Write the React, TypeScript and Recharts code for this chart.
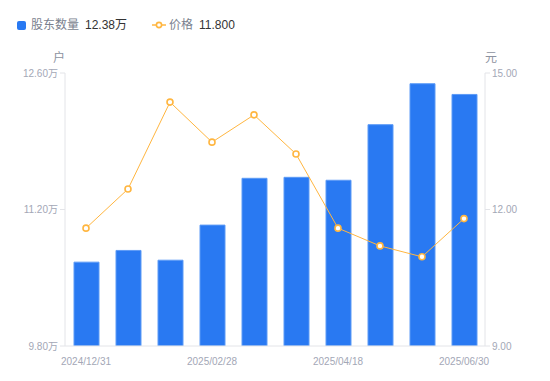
import React from 'react';
import { ComposedChart, Bar, Line, XAxis, YAxis } from 'recharts';

const dates = [
  '2024/12/31',
  '2025/01/10',
  '2025/01/20',
  '2025/02/28',
  '2025/03/10',
  '2025/03/31',
  '2025/04/18',
  '2025/05/09',
  '2025/05/30',
  '2025/06/30',
];
const holders = [10.66, 10.78, 10.68, 11.04, 11.52, 11.53, 11.5, 12.07, 12.49, 12.38];
const prices = [11.59, 12.45, 14.36, 13.48, 14.08, 13.22, 11.59, 11.2, 10.96, 11.8];
const leftTicks = [9.8, 11.2, 12.6];
const rightTicks = [9, 12, 15];

const data = dates.map((d, i) => ({ date: d, holders: holders[i], price: prices[i] }));

const FONT = "'Liberation Sans', 'Noto Sans CJK SC', sans-serif";
const tickStyle = { fontSize: 10, fill: '#a3a7b6', fontFamily: FONT };
const axisGray = '#e3e4e8';

export default function App() {
  return (
    <div style={{ position: 'absolute', left: 0, top: 0, width: 550, height: 381, background: '#fff', fontFamily: FONT }}>
      {/* legend */}
      <div style={{ position: 'absolute', top: 16, left: 17, display: 'flex', alignItems: 'center', fontSize: 12, lineHeight: '18px' }}>
        <span style={{ width: 9, height: 9, borderRadius: 2, background: '#2979f2', display: 'inline-block' }} />
        <span style={{ color: '#7a7f8e', marginLeft: 5 }}>股东数量</span>
        <span style={{ color: '#333', marginLeft: 6 }}>12.38万</span>
        <svg width={14} height={10} style={{ marginLeft: 25 }}>
          <line x1={0} y1={5} x2={14} y2={5} stroke="#ffb640" strokeWidth={1.5} />
          <circle cx={7} cy={5} r={2.6} fill="#fff" stroke="#ffb640" strokeWidth={1.6} />
        </svg>
        <span style={{ color: '#7a7f8e', marginLeft: 3 }}>价格</span>
        <span style={{ color: '#333', marginLeft: 6 }}>11.800</span>
      </div>
      <div style={{ position: 'absolute', left: 53, top: 48, fontSize: 12, color: '#8d92a0' }}>户</div>
      <div style={{ position: 'absolute', left: 485, top: 48, fontSize: 12, color: '#8d92a0' }}>元</div>

      <ComposedChart width={550} height={381} data={data} margin={{ top: 73, right: 0, bottom: 0, left: 0 }}>
        <XAxis
          dataKey="date"
          interval={2}
          height={35}
          tickLine={false}
          tickMargin={6}
          tick={tickStyle}
          stroke={axisGray}
        />
        <YAxis
          yAxisId="left"
          width={65}
          domain={[9.8, 12.6]}
          ticks={leftTicks}
          tickFormatter={(v: number) => v.toFixed(2) + '万'}
          tick={tickStyle}
          tickSize={5}
          stroke={axisGray}
          allowDataOverflow
        />
        <YAxis
          yAxisId="right"
          orientation="right"
          width={65}
          domain={[9, 15]}
          ticks={rightTicks}
          tickFormatter={(v: number) => v.toFixed(2)}
          tick={tickStyle}
          tickSize={5}
          stroke={axisGray}
          allowDataOverflow
        />
        <Bar
          yAxisId="left"
          dataKey="holders"
          fill="#2979f2"
          stroke="#5d9bf6"
          strokeWidth={1}
          barSize={25}
          isAnimationActive={false}
        />
        <Line
          yAxisId="right"
          dataKey="price"
          type="linear"
          stroke="#ffb640"
          strokeWidth={1}
          dot={{ r: 3, fill: '#fff', stroke: '#ffb640', strokeWidth: 1.6 }}
          isAnimationActive={false}
        />
      </ComposedChart>
    </div>
  );
}
